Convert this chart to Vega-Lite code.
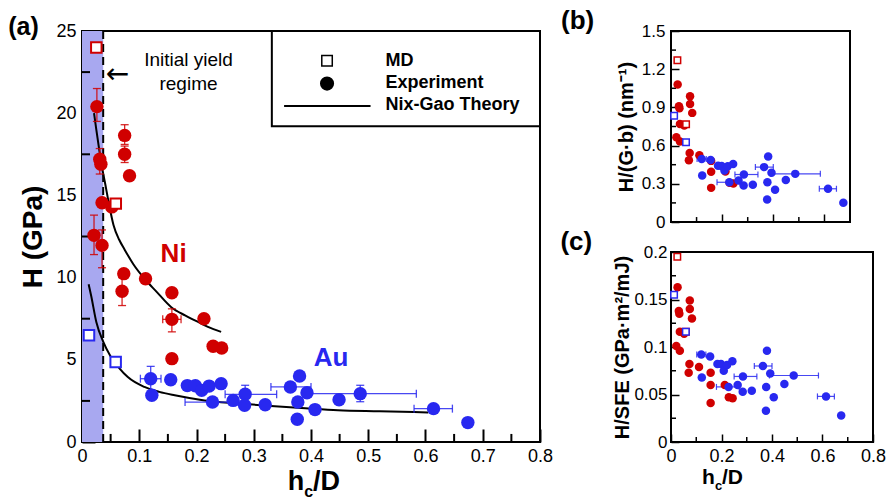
{
  "$schema": "https://vega.github.io/schema/vega-lite/v6.json",
  "background": "white",
  "padding": {"left": 7, "top": 7, "right": 0, "bottom": 0},
  "config": {
    "font": "Liberation Sans",
    "view": {"stroke": "black", "strokeWidth": 2},
    "axis": {"zindex": 1, "domain": false, "ticks": true, "tickColor": "black", "grid": false, "labelColor": "black", "titleColor": "black", "labelFlush": false, "labelOverlap": false, "format": "~g", "tickCount": 20}
  },
  "datasets": {
    "pts": [
      {"mat": "Ni", "kind": "MD", "x": 0.025, "H": 24.0, "HGb": 1.27, "HSFE": 0.195},
      {"mat": "Ni", "kind": "MD", "x": 0.059, "H": 14.5, "HGb": 0.767, "HSFE": 0.116},
      {"mat": "Au", "kind": "MD", "x": 0.0122, "H": 6.49, "HGb": 0.834, "HSFE": 0.155},
      {"mat": "Au", "kind": "MD", "x": 0.0588, "H": 4.87, "HGb": 0.626, "HSFE": 0.116},
      {"mat": "Ni", "kind": "Exp", "x": 0.026, "H": 20.4, "HGb": 1.079, "HSFE": 0.163, "Hlo": 19.5, "Hhi": 21.5},
      {"mat": "Ni", "kind": "Exp", "x": 0.0745, "H": 18.65, "HGb": 0.987, "HSFE": 0.149, "Hlo": 18.1, "Hhi": 19.3},
      {"mat": "Ni", "kind": "Exp", "x": 0.0745, "H": 17.5, "HGb": 0.926, "HSFE": 0.140, "Hlo": 17.0, "Hhi": 18.0},
      {"mat": "Ni", "kind": "Exp", "x": 0.031, "H": 17.2, "HGb": 0.910, "HSFE": 0.138, "Hlo": 16.3, "Hhi": 17.85},
      {"mat": "Ni", "kind": "Exp", "x": 0.033, "H": 16.9, "HGb": 0.894, "HSFE": 0.135},
      {"mat": "Ni", "kind": "Exp", "x": 0.083, "H": 16.2, "HGb": 0.857, "HSFE": 0.130},
      {"mat": "Ni", "kind": "Exp", "x": 0.035, "H": 14.55, "HGb": 0.770, "HSFE": 0.116},
      {"mat": "Ni", "kind": "Exp", "x": 0.052, "H": 14.3, "HGb": 0.757, "HSFE": 0.114},
      {"mat": "Ni", "kind": "Exp", "x": 0.021, "H": 12.57, "HGb": 0.665, "HSFE": 0.101, "Hlo": 11.4, "Hhi": 13.8},
      {"mat": "Ni", "kind": "Exp", "x": 0.035, "H": 11.96, "HGb": 0.633, "HSFE": 0.096, "Hlo": 10.6, "Hhi": 12.9},
      {"mat": "Ni", "kind": "Exp", "x": 0.073, "H": 10.24, "HGb": 0.542, "HSFE": 0.082},
      {"mat": "Ni", "kind": "Exp", "x": 0.111, "H": 9.93, "HGb": 0.525, "HSFE": 0.079},
      {"mat": "Ni", "kind": "Exp", "x": 0.070, "H": 9.17, "HGb": 0.485, "HSFE": 0.073, "Hlo": 8.3, "Hhi": 10.0},
      {"mat": "Ni", "kind": "Exp", "x": 0.157, "H": 9.08, "HGb": 0.480, "HSFE": 0.073},
      {"mat": "Ni", "kind": "Exp", "x": 0.157, "H": 7.46, "HGb": 0.395, "HSFE": 0.060, "Hlo": 6.7, "Hhi": 8.1, "xlo": 0.141, "xhi": 0.173},
      {"mat": "Ni", "kind": "Exp", "x": 0.213, "H": 7.5, "HGb": 0.397, "HSFE": 0.060},
      {"mat": "Ni", "kind": "Exp", "x": 0.229, "H": 5.82, "HGb": 0.308, "HSFE": 0.047},
      {"mat": "Ni", "kind": "Exp", "x": 0.244, "H": 5.72, "HGb": 0.303, "HSFE": 0.046},
      {"mat": "Ni", "kind": "Exp", "x": 0.157, "H": 5.07, "HGb": 0.268, "HSFE": 0.041},
      {"mat": "Au", "kind": "Exp", "x": 0.12, "H": 3.85, "HGb": 0.495, "HSFE": 0.092, "Hlo": 3.1, "Hhi": 4.6, "xlo": 0.102, "xhi": 0.138},
      {"mat": "Au", "kind": "Exp", "x": 0.122, "H": 2.84, "HGb": 0.365, "HSFE": 0.068},
      {"mat": "Au", "kind": "Exp", "x": 0.155, "H": 3.79, "HGb": 0.487, "HSFE": 0.090},
      {"mat": "Au", "kind": "Exp", "x": 0.184, "H": 3.43, "HGb": 0.441, "HSFE": 0.082},
      {"mat": "Au", "kind": "Exp", "x": 0.198, "H": 3.42, "HGb": 0.440, "HSFE": 0.082},
      {"mat": "Au", "kind": "Exp", "x": 0.209, "H": 3.14, "HGb": 0.404, "HSFE": 0.075},
      {"mat": "Au", "kind": "Exp", "x": 0.222, "H": 3.4, "HGb": 0.437, "HSFE": 0.081},
      {"mat": "Au", "kind": "Exp", "x": 0.243, "H": 3.55, "HGb": 0.456, "HSFE": 0.085},
      {"mat": "Au", "kind": "Exp", "x": 0.228, "H": 2.43, "HGb": 0.312, "HSFE": 0.058, "xlo": 0.18, "xhi": 0.27},
      {"mat": "Au", "kind": "Exp", "x": 0.264, "H": 2.53, "HGb": 0.325, "HSFE": 0.060},
      {"mat": "Au", "kind": "Exp", "x": 0.285, "H": 2.9, "HGb": 0.373, "HSFE": 0.069, "Hlo": 2.4, "Hhi": 3.45, "xlo": 0.25, "xhi": 0.34},
      {"mat": "Au", "kind": "Exp", "x": 0.284, "H": 2.23, "HGb": 0.287, "HSFE": 0.053},
      {"mat": "Au", "kind": "Exp", "x": 0.32, "H": 2.27, "HGb": 0.292, "HSFE": 0.054},
      {"mat": "Au", "kind": "Exp", "x": 0.38, "H": 4.01, "HGb": 0.515, "HSFE": 0.096},
      {"mat": "Au", "kind": "Exp", "x": 0.364, "H": 3.35, "HGb": 0.431, "HSFE": 0.080, "xlo": 0.33, "xhi": 0.40},
      {"mat": "Au", "kind": "Exp", "x": 0.393, "H": 3.0, "HGb": 0.386, "HSFE": 0.072},
      {"mat": "Au", "kind": "Exp", "x": 0.486, "H": 2.94, "HGb": 0.378, "HSFE": 0.070, "Hlo": 2.45, "Hhi": 3.45, "xlo": 0.39, "xhi": 0.584},
      {"mat": "Au", "kind": "Exp", "x": 0.377, "H": 2.43, "HGb": 0.312, "HSFE": 0.058},
      {"mat": "Au", "kind": "Exp", "x": 0.407, "H": 1.97, "HGb": 0.253, "HSFE": 0.047},
      {"mat": "Au", "kind": "Exp", "x": 0.376, "H": 1.38, "HGb": 0.177, "HSFE": 0.033},
      {"mat": "Au", "kind": "Exp", "x": 0.449, "H": 2.57, "HGb": 0.330, "HSFE": 0.061},
      {"mat": "Au", "kind": "Exp", "x": 0.614, "H": 2.03, "HGb": 0.261, "HSFE": 0.048, "xlo": 0.58, "xhi": 0.647},
      {"mat": "Au", "kind": "Exp", "x": 0.674, "H": 1.18, "HGb": 0.152, "HSFE": 0.028}
    ],
    "curves": [
      {"mat": "Ni", "x": 0.021, "H": 20.0}, {"mat": "Ni", "x": 0.025, "H": 19.0}, {"mat": "Ni", "x": 0.03, "H": 17.8},
      {"mat": "Ni", "x": 0.035, "H": 16.7}, {"mat": "Ni", "x": 0.04, "H": 15.8}, {"mat": "Ni", "x": 0.047, "H": 14.5},
      {"mat": "Ni", "x": 0.055, "H": 13.2}, {"mat": "Ni", "x": 0.065, "H": 12.3}, {"mat": "Ni", "x": 0.0745, "H": 11.7},
      {"mat": "Ni", "x": 0.09, "H": 10.8}, {"mat": "Ni", "x": 0.11, "H": 9.9}, {"mat": "Ni", "x": 0.13, "H": 9.15},
      {"mat": "Ni", "x": 0.156, "H": 8.2}, {"mat": "Ni", "x": 0.18, "H": 7.7}, {"mat": "Ni", "x": 0.2, "H": 7.35},
      {"mat": "Ni", "x": 0.22, "H": 7.0}, {"mat": "Ni", "x": 0.243, "H": 6.7},
      {"mat": "Au", "x": 0.0116, "H": 9.6}, {"mat": "Au", "x": 0.016, "H": 8.9}, {"mat": "Au", "x": 0.025, "H": 7.3},
      {"mat": "Au", "x": 0.037, "H": 6.1}, {"mat": "Au", "x": 0.05, "H": 5.2}, {"mat": "Au", "x": 0.065, "H": 4.5},
      {"mat": "Au", "x": 0.08, "H": 3.95}, {"mat": "Au", "x": 0.109, "H": 3.35}, {"mat": "Au", "x": 0.135, "H": 3.05},
      {"mat": "Au", "x": 0.162, "H": 2.84}, {"mat": "Au", "x": 0.214, "H": 2.53}, {"mat": "Au", "x": 0.27, "H": 2.35},
      {"mat": "Au", "x": 0.33, "H": 2.19}, {"mat": "Au", "x": 0.39, "H": 2.05}, {"mat": "Au", "x": 0.447, "H": 1.93},
      {"mat": "Au", "x": 0.52, "H": 1.87}, {"mat": "Au", "x": 0.58, "H": 1.82}, {"mat": "Au", "x": 0.605, "H": 1.79}
    ]
  },
  "spacing": 131,
  "bounds": "flush",
  "hconcat": [
    {
      "width": 458,
      "height": 411,
      "layer": [
        {
          "data": {"values": [{}]},
          "mark": {"type": "rect", "fill": "#a8a8f0"},
          "encoding": {
            "x": {"datum": 0, "type": "quantitative", "scale": {"domain": [0, 0.8], "nice": false},
              "axis": {"title": null, "values": [0, 0.1, 0.2, 0.3, 0.4, 0.5, 0.6, 0.7, 0.8], "tickSize": -13, "tickWidth": 2, "labelFontSize": 18, "labelPadding": 18}},
            "x2": {"datum": 0.037},
            "y": {"datum": 0, "type": "quantitative", "scale": {"domain": [0, 25], "nice": false},
              "axis": {"title": "H (GPa)", "titleFontSize": 28, "titleFontWeight": "bold", "titlePadding": 8,
                "values": [0, 5, 10, 15, 20, 25], "tickSize": -13, "tickWidth": 2, "labelFontSize": 18, "labelPadding": 19}},
            "y2": {"datum": 25}
          }
        },
        {"data": {"values": [{}]}, "mark": {"type": "rule", "color": "black", "strokeWidth": 2}, "encoding": {"x": {"datum": 0.05, "type": "quantitative"}, "y": {"datum": 0, "type": "quantitative"}, "y2": {"datum": 0.49}}},
        {"data": {"values": [{}]}, "mark": {"type": "rule", "color": "black", "strokeWidth": 2}, "encoding": {"x": {"datum": 0.15, "type": "quantitative"}, "y": {"datum": 0, "type": "quantitative"}, "y2": {"datum": 0.49}}},
        {"data": {"values": [{}]}, "mark": {"type": "rule", "color": "black", "strokeWidth": 2}, "encoding": {"x": {"datum": 0.25, "type": "quantitative"}, "y": {"datum": 0, "type": "quantitative"}, "y2": {"datum": 0.49}}},
        {"data": {"values": [{}]}, "mark": {"type": "rule", "color": "black", "strokeWidth": 2}, "encoding": {"x": {"datum": 0.35, "type": "quantitative"}, "y": {"datum": 0, "type": "quantitative"}, "y2": {"datum": 0.49}}},
        {"data": {"values": [{}]}, "mark": {"type": "rule", "color": "black", "strokeWidth": 2}, "encoding": {"x": {"datum": 0.45, "type": "quantitative"}, "y": {"datum": 0, "type": "quantitative"}, "y2": {"datum": 0.49}}},
        {"data": {"values": [{}]}, "mark": {"type": "rule", "color": "black", "strokeWidth": 2}, "encoding": {"x": {"datum": 0.55, "type": "quantitative"}, "y": {"datum": 0, "type": "quantitative"}, "y2": {"datum": 0.49}}},
        {"data": {"values": [{}]}, "mark": {"type": "rule", "color": "black", "strokeWidth": 2}, "encoding": {"x": {"datum": 0.65, "type": "quantitative"}, "y": {"datum": 0, "type": "quantitative"}, "y2": {"datum": 0.49}}},
        {"data": {"values": [{}]}, "mark": {"type": "rule", "color": "black", "strokeWidth": 2}, "encoding": {"x": {"datum": 0.75, "type": "quantitative"}, "y": {"datum": 0, "type": "quantitative"}, "y2": {"datum": 0.49}}},
        {"data": {"values": [{}]}, "mark": {"type": "rule", "color": "black", "strokeWidth": 2}, "encoding": {"y": {"datum": 2.5, "type": "quantitative"}, "x": {"datum": 0, "type": "quantitative"}, "x2": {"datum": 0.014}}},
        {"data": {"values": [{}]}, "mark": {"type": "rule", "color": "black", "strokeWidth": 2}, "encoding": {"y": {"datum": 7.5, "type": "quantitative"}, "x": {"datum": 0, "type": "quantitative"}, "x2": {"datum": 0.014}}},
        {"data": {"values": [{}]}, "mark": {"type": "rule", "color": "black", "strokeWidth": 2}, "encoding": {"y": {"datum": 12.5, "type": "quantitative"}, "x": {"datum": 0, "type": "quantitative"}, "x2": {"datum": 0.014}}},
        {"data": {"values": [{}]}, "mark": {"type": "rule", "color": "black", "strokeWidth": 2}, "encoding": {"y": {"datum": 17.5, "type": "quantitative"}, "x": {"datum": 0, "type": "quantitative"}, "x2": {"datum": 0.014}}},
        {"data": {"values": [{}]}, "mark": {"type": "rule", "color": "black", "strokeWidth": 2}, "encoding": {"y": {"datum": 22.5, "type": "quantitative"}, "x": {"datum": 0, "type": "quantitative"}, "x2": {"datum": 0.014}}},
        {
          "data": {"values": [{}]},
          "mark": {"type": "rule", "color": "black", "strokeWidth": 2, "strokeDash": [8, 5]},
          "encoding": {"x": {"datum": 0.037, "type": "quantitative"}, "y": {"datum": 0, "type": "quantitative"}, "y2": {"datum": 25}}
        },
        {
          "data": {"name": "curves"},
          "mark": {"type": "line", "color": "black", "strokeWidth": 2, "interpolate": "monotone"},
          "encoding": {
            "x": {"field": "x", "type": "quantitative"},
            "y": {"field": "H", "type": "quantitative"},
            "detail": {"field": "mat"}
          }
        },
        {
          "data": {"name": "pts"},
          "transform": [{"filter": {"field": "Hlo", "valid": true}}],
          "mark": {"type": "errorbar", "ticks": {"size": 8, "thickness": 1.3}, "rule": {"strokeWidth": 1.3}, "opacity": 0.85},
          "encoding": {
            "x": {"field": "x", "type": "quantitative"},
            "y": {"field": "Hlo", "type": "quantitative", "title": "H (GPa)"},
            "y2": {"field": "Hhi"},
            "color": {"field": "mat", "type": "nominal", "scale": {"domain": ["Ni", "Au"], "range": ["#d00000", "#2828f0"]}, "legend": null}
          }
        },
        {
          "data": {"name": "pts"},
          "transform": [{"filter": {"field": "xlo", "valid": true}}],
          "mark": {"type": "errorbar", "ticks": {"size": 8, "thickness": 1.3}, "rule": {"strokeWidth": 1.3}, "opacity": 0.85},
          "encoding": {
            "x": {"field": "xlo", "type": "quantitative", "title": null},
            "x2": {"field": "xhi"},
            "y": {"field": "H", "type": "quantitative", "title": "H (GPa)"},
            "color": {"field": "mat", "type": "nominal", "legend": null}
          }
        },
        {
          "data": {"name": "pts"},
          "transform": [{"filter": "datum.kind == 'Exp'"}],
          "mark": {"type": "point", "shape": "circle", "filled": true, "opacity": 1, "size": 180},
          "encoding": {
            "x": {"field": "x", "type": "quantitative"},
            "y": {"field": "H", "type": "quantitative"},
            "color": {"field": "mat", "type": "nominal", "legend": null}
          }
        },
        {
          "data": {"name": "pts"},
          "transform": [{"filter": "datum.kind == 'MD'"}],
          "mark": {"type": "point", "shape": "square", "filled": false, "opacity": 1, "size": 110, "strokeWidth": 2, "fill": "white", "fillOpacity": 1},
          "encoding": {
            "x": {"field": "x", "type": "quantitative"},
            "y": {"field": "H", "type": "quantitative"},
            "color": {"field": "mat", "type": "nominal", "legend": null}
          }
        },
        {
          "data": {"values": [{}]},
          "mark": {"type": "text", "text": "Ni", "fontSize": 26, "fontWeight": "bold", "color": "#d00000", "align": "center", "baseline": "alphabetic"},
          "encoding": {"x": {"datum": 0.16, "type": "quantitative"}, "y": {"datum": 10.95, "type": "quantitative"}}
        },
        {
          "data": {"values": [{}]},
          "mark": {"type": "text", "text": "Au", "fontSize": 26, "fontWeight": "bold", "color": "#2828f0", "align": "center", "baseline": "alphabetic"},
          "encoding": {"x": {"datum": 0.435, "type": "quantitative"}, "y": {"datum": 4.6, "type": "quantitative"}}
        },
        {
          "data": {"values": [{}]},
          "mark": {"type": "text", "text": "Initial yield", "fontSize": 19, "color": "black", "align": "center", "baseline": "alphabetic"},
          "encoding": {"x": {"datum": 0.186, "type": "quantitative"}, "y": {"datum": 22.85, "type": "quantitative"}}
        },
        {
          "data": {"values": [{}]},
          "mark": {"type": "text", "text": "regime", "fontSize": 19, "color": "black", "align": "center", "baseline": "alphabetic"},
          "encoding": {"x": {"datum": 0.186, "type": "quantitative"}, "y": {"datum": 21.39, "type": "quantitative"}}
        },
        {
          "data": {"values": [{}]},
          "mark": {"type": "text", "text": "←", "font": "DejaVu Sans", "fontSize": 28, "color": "black", "align": "center", "baseline": "middle"},
          "encoding": {"x": {"datum": 0.062, "type": "quantitative"}, "y": {"datum": 22.35, "type": "quantitative"}}
        },
        {
          "data": {"values": [{}]},
          "mark": {"type": "text", "text": "(a)", "fontSize": 25, "fontWeight": "bold", "color": "black", "align": "left", "baseline": "alphabetic"},
          "encoding": {"x": {"datum": -0.129, "type": "quantitative"}, "y": {"datum": 24.76, "type": "quantitative"}}
        },
        {
          "data": {"values": [{}]},
          "mark": {"type": "text", "text": "h", "fontSize": 27, "fontWeight": "bold", "color": "black", "align": "right", "baseline": "alphabetic", "dx": -9.7},
          "encoding": {"x": {"datum": 0.405, "type": "quantitative"}, "y": {"datum": -2.92, "type": "quantitative"}}
        },
        {
          "data": {"values": [{}]},
          "mark": {"type": "text", "text": "c", "fontSize": 16, "fontWeight": "bold", "color": "black", "align": "left", "baseline": "alphabetic", "dx": -9.7, "dy": 7},
          "encoding": {"x": {"datum": 0.405, "type": "quantitative"}, "y": {"datum": -2.92, "type": "quantitative"}}
        },
        {
          "data": {"values": [{}]},
          "mark": {"type": "text", "text": "/D", "fontSize": 27, "fontWeight": "bold", "color": "black", "align": "left", "baseline": "alphabetic", "dx": -0.8},
          "encoding": {"x": {"datum": 0.405, "type": "quantitative"}, "y": {"datum": -2.92, "type": "quantitative"}}
        },
        {
          "data": {"values": [{}]},
          "mark": {"type": "rect", "fill": "white", "stroke": "black", "strokeWidth": 2},
          "encoding": {"x": {"datum": 0.3316, "type": "quantitative"}, "x2": {"datum": 0.8}, "y": {"datum": 19.2, "type": "quantitative"}, "y2": {"datum": 25}}
        },
        {
          "data": {"values": [{}]},
          "mark": {"type": "point", "shape": "square", "filled": false, "color": "black", "size": 110, "strokeWidth": 1.5, "opacity": 1},
          "encoding": {"x": {"datum": 0.428, "type": "quantitative"}, "y": {"datum": 23.19, "type": "quantitative"}}
        },
        {
          "data": {"values": [{}]},
          "mark": {"type": "point", "shape": "circle", "filled": true, "color": "black", "size": 200, "opacity": 1},
          "encoding": {"x": {"datum": 0.428, "type": "quantitative"}, "y": {"datum": 21.8, "type": "quantitative"}}
        },
        {
          "data": {"values": [{}]},
          "mark": {"type": "rule", "color": "black", "strokeWidth": 2},
          "encoding": {"x": {"datum": 0.353, "type": "quantitative"}, "x2": {"datum": 0.504}, "y": {"datum": 20.44, "type": "quantitative"}}
        },
        {
          "data": {"values": [{}]},
          "mark": {"type": "text", "text": "MD", "fontSize": 18, "fontWeight": "bold", "color": "black", "align": "left", "baseline": "middle"},
          "encoding": {"x": {"datum": 0.53, "type": "quantitative"}, "y": {"datum": 23.19, "type": "quantitative"}}
        },
        {
          "data": {"values": [{}]},
          "mark": {"type": "text", "text": "Experiment", "fontSize": 18, "fontWeight": "bold", "color": "black", "align": "left", "baseline": "middle"},
          "encoding": {"x": {"datum": 0.53, "type": "quantitative"}, "y": {"datum": 21.85, "type": "quantitative"}}
        },
        {
          "data": {"values": [{}]},
          "mark": {"type": "text", "text": "Nix-Gao Theory", "fontSize": 18, "fontWeight": "bold", "color": "black", "align": "left", "baseline": "middle"},
          "encoding": {"x": {"datum": 0.53, "type": "quantitative"}, "y": {"datum": 20.48, "type": "quantitative"}}
        }
      ]
    },
    {
      "spacing": 30,
      "bounds": "flush",
      "vconcat": [
        {
          "width": 179,
          "height": 191,
          "layer": [
            {
              "data": {"name": "pts"},
              "transform": [{"filter": {"field": "xlo", "valid": true}}, {"filter": "datum.mat == 'Au'"}],
              "mark": {"type": "errorbar", "ticks": {"size": 6, "thickness": 1.2}, "rule": {"strokeWidth": 1.2}, "opacity": 0.85},
              "encoding": {
                "x": {"field": "xlo", "type": "quantitative", "scale": {"domain": [0, 0.7], "nice": false},
                  "axis": {"title": null, "labels": false, "values": [0.2, 0.4, 0.6], "tickSize": -8, "tickWidth": 1.5}},
                "x2": {"field": "xhi"},
                "y": {"field": "HGb", "type": "quantitative", "scale": {"domain": [0, 1.5], "nice": false},
                  "axis": {"title": "H/(G·b) (nm⁻¹)", "titleFontSize": 20, "titleFontWeight": "bold", "titlePadding": 5, "tickCount": 20,
                    "values": [0, 0.3, 0.6, 0.9, 1.2, 1.5], "tickSize": -8, "tickWidth": 1.5, "labelFontSize": 17, "labelPadding": 14, "labelOverlap": false}},
                "color": {"field": "mat", "type": "nominal", "scale": {"domain": ["Ni", "Au"], "range": ["#d00000", "#2828f0"]}, "legend": null}
              }
            },
            {"data": {"values": [{}]}, "mark": {"type": "rule", "color": "black", "strokeWidth": 1.5}, "encoding": {"x": {"datum": 0.1, "type": "quantitative"}, "y": {"datum": 0, "type": "quantitative"}, "y2": {"datum": 0.039}}},
            {"data": {"values": [{}]}, "mark": {"type": "rule", "color": "black", "strokeWidth": 1.5}, "encoding": {"x": {"datum": 0.3, "type": "quantitative"}, "y": {"datum": 0, "type": "quantitative"}, "y2": {"datum": 0.039}}},
            {"data": {"values": [{}]}, "mark": {"type": "rule", "color": "black", "strokeWidth": 1.5}, "encoding": {"x": {"datum": 0.5, "type": "quantitative"}, "y": {"datum": 0, "type": "quantitative"}, "y2": {"datum": 0.039}}},
            {"data": {"values": [{}]}, "mark": {"type": "rule", "color": "black", "strokeWidth": 1.5}, "encoding": {"y": {"datum": 0.15, "type": "quantitative"}, "x": {"datum": 0, "type": "quantitative"}, "x2": {"datum": 0.0196}}},
            {"data": {"values": [{}]}, "mark": {"type": "rule", "color": "black", "strokeWidth": 1.5}, "encoding": {"y": {"datum": 0.45, "type": "quantitative"}, "x": {"datum": 0, "type": "quantitative"}, "x2": {"datum": 0.0196}}},
            {"data": {"values": [{}]}, "mark": {"type": "rule", "color": "black", "strokeWidth": 1.5}, "encoding": {"y": {"datum": 0.75, "type": "quantitative"}, "x": {"datum": 0, "type": "quantitative"}, "x2": {"datum": 0.0196}}},
            {"data": {"values": [{}]}, "mark": {"type": "rule", "color": "black", "strokeWidth": 1.5}, "encoding": {"y": {"datum": 1.05, "type": "quantitative"}, "x": {"datum": 0, "type": "quantitative"}, "x2": {"datum": 0.0196}}},
            {"data": {"values": [{}]}, "mark": {"type": "rule", "color": "black", "strokeWidth": 1.5}, "encoding": {"y": {"datum": 1.35, "type": "quantitative"}, "x": {"datum": 0, "type": "quantitative"}, "x2": {"datum": 0.0196}}},
            {
              "data": {"name": "pts"},
              "transform": [{"filter": "datum.kind == 'Exp'"}],
              "mark": {"type": "point", "shape": "circle", "filled": true, "opacity": 1, "size": 72},
              "encoding": {
                "x": {"field": "x", "type": "quantitative"},
                "y": {"field": "HGb", "type": "quantitative"},
                "color": {"field": "mat", "type": "nominal", "legend": null}
              }
            },
            {
              "data": {"name": "pts"},
              "transform": [{"filter": "datum.kind == 'MD'"}],
              "mark": {"type": "point", "shape": "square", "filled": false, "opacity": 1, "size": 42, "strokeWidth": 1.5, "fill": "white", "fillOpacity": 1},
              "encoding": {
                "x": {"field": "x", "type": "quantitative"},
                "y": {"field": "HGb", "type": "quantitative"},
                "color": {"field": "mat", "type": "nominal", "legend": null}
              }
            },
            {
              "data": {"values": [{}]},
              "mark": {"type": "text", "text": "(b)", "fontSize": 26, "fontWeight": "bold", "color": "black", "align": "left", "baseline": "alphabetic"},
              "encoding": {"x": {"datum": -0.43, "type": "quantitative"}, "y": {"datum": 1.513, "type": "quantitative"}}
            }
          ]
        },
        {
          "width": 202,
          "height": 190,
          "layer": [
            {
              "data": {"name": "pts"},
              "transform": [{"filter": {"field": "xlo", "valid": true}}, {"filter": "datum.mat == 'Au'"}],
              "mark": {"type": "errorbar", "ticks": {"size": 6, "thickness": 1.2}, "rule": {"strokeWidth": 1.2}, "opacity": 0.85},
              "encoding": {
                "x": {"field": "xlo", "type": "quantitative", "scale": {"domain": [0, 0.8], "nice": false},
                  "axis": {"title": null, "values": [0, 0.2, 0.4, 0.6, 0.8], "tickSize": -8, "tickWidth": 1.5, "labelFontSize": 18, "labelPadding": 13}},
                "x2": {"field": "xhi"},
                "y": {"field": "HSFE", "type": "quantitative", "scale": {"domain": [0, 0.2], "nice": false},
                  "axis": {"title": "H/SFE (GPa·m²/mJ)", "titleFontSize": 20, "titleFontWeight": "bold", "titlePadding": 1,
                    "values": [0, 0.05, 0.1, 0.15, 0.2], "tickSize": -8, "tickWidth": 1.5, "labelFontSize": 17, "labelPadding": 12}},
                "color": {"field": "mat", "type": "nominal", "scale": {"domain": ["Ni", "Au"], "range": ["#d00000", "#2828f0"]}, "legend": null}
              }
            },
            {"data": {"values": [{}]}, "mark": {"type": "rule", "color": "black", "strokeWidth": 1.5}, "encoding": {"x": {"datum": 0.1, "type": "quantitative"}, "y": {"datum": 0, "type": "quantitative"}, "y2": {"datum": 0.0053}}},
            {"data": {"values": [{}]}, "mark": {"type": "rule", "color": "black", "strokeWidth": 1.5}, "encoding": {"x": {"datum": 0.3, "type": "quantitative"}, "y": {"datum": 0, "type": "quantitative"}, "y2": {"datum": 0.0053}}},
            {"data": {"values": [{}]}, "mark": {"type": "rule", "color": "black", "strokeWidth": 1.5}, "encoding": {"x": {"datum": 0.5, "type": "quantitative"}, "y": {"datum": 0, "type": "quantitative"}, "y2": {"datum": 0.0053}}},
            {"data": {"values": [{}]}, "mark": {"type": "rule", "color": "black", "strokeWidth": 1.5}, "encoding": {"x": {"datum": 0.7, "type": "quantitative"}, "y": {"datum": 0, "type": "quantitative"}, "y2": {"datum": 0.0053}}},
            {"data": {"values": [{}]}, "mark": {"type": "rule", "color": "black", "strokeWidth": 1.5}, "encoding": {"y": {"datum": 0.025, "type": "quantitative"}, "x": {"datum": 0, "type": "quantitative"}, "x2": {"datum": 0.0198}}},
            {"data": {"values": [{}]}, "mark": {"type": "rule", "color": "black", "strokeWidth": 1.5}, "encoding": {"y": {"datum": 0.075, "type": "quantitative"}, "x": {"datum": 0, "type": "quantitative"}, "x2": {"datum": 0.0198}}},
            {"data": {"values": [{}]}, "mark": {"type": "rule", "color": "black", "strokeWidth": 1.5}, "encoding": {"y": {"datum": 0.125, "type": "quantitative"}, "x": {"datum": 0, "type": "quantitative"}, "x2": {"datum": 0.0198}}},
            {"data": {"values": [{}]}, "mark": {"type": "rule", "color": "black", "strokeWidth": 1.5}, "encoding": {"y": {"datum": 0.175, "type": "quantitative"}, "x": {"datum": 0, "type": "quantitative"}, "x2": {"datum": 0.0198}}},
            {
              "data": {"name": "pts"},
              "transform": [{"filter": "datum.kind == 'Exp'"}],
              "mark": {"type": "point", "shape": "circle", "filled": true, "opacity": 1, "size": 72},
              "encoding": {
                "x": {"field": "x", "type": "quantitative"},
                "y": {"field": "HSFE", "type": "quantitative"},
                "color": {"field": "mat", "type": "nominal", "legend": null}
              }
            },
            {
              "data": {"name": "pts"},
              "transform": [{"filter": "datum.kind == 'MD'"}],
              "mark": {"type": "point", "shape": "square", "filled": false, "opacity": 1, "size": 42, "strokeWidth": 1.5, "fill": "white", "fillOpacity": 1},
              "encoding": {
                "x": {"field": "x", "type": "quantitative"},
                "y": {"field": "HSFE", "type": "quantitative"},
                "color": {"field": "mat", "type": "nominal", "legend": null}
              }
            },
            {
              "data": {"values": [{}]},
              "mark": {"type": "text", "text": "(c)", "fontSize": 26, "fontWeight": "bold", "color": "black", "align": "left", "baseline": "alphabetic"},
              "encoding": {"x": {"datum": -0.438, "type": "quantitative"}, "y": {"datum": 0.2018, "type": "quantitative"}}
            },
            {
              "data": {"values": [{}]},
              "mark": {"type": "text", "text": "h", "fontSize": 21, "fontWeight": "bold", "color": "black", "align": "right", "baseline": "alphabetic", "dx": -7.6},
              "encoding": {"x": {"datum": 0.204, "type": "quantitative"}, "y": {"datum": -0.0439, "type": "quantitative"}}
            },
            {
              "data": {"values": [{}]},
              "mark": {"type": "text", "text": "c", "fontSize": 13, "fontWeight": "bold", "color": "black", "align": "left", "baseline": "alphabetic", "dx": -7.6, "dy": 6},
              "encoding": {"x": {"datum": 0.204, "type": "quantitative"}, "y": {"datum": -0.0439, "type": "quantitative"}}
            },
            {
              "data": {"values": [{}]},
              "mark": {"type": "text", "text": "/D", "fontSize": 21, "fontWeight": "bold", "color": "black", "align": "left", "baseline": "alphabetic", "dx": -0.6},
              "encoding": {"x": {"datum": 0.204, "type": "quantitative"}, "y": {"datum": -0.0439, "type": "quantitative"}}
            }
          ]
        }
      ]
    }
  ]
}
